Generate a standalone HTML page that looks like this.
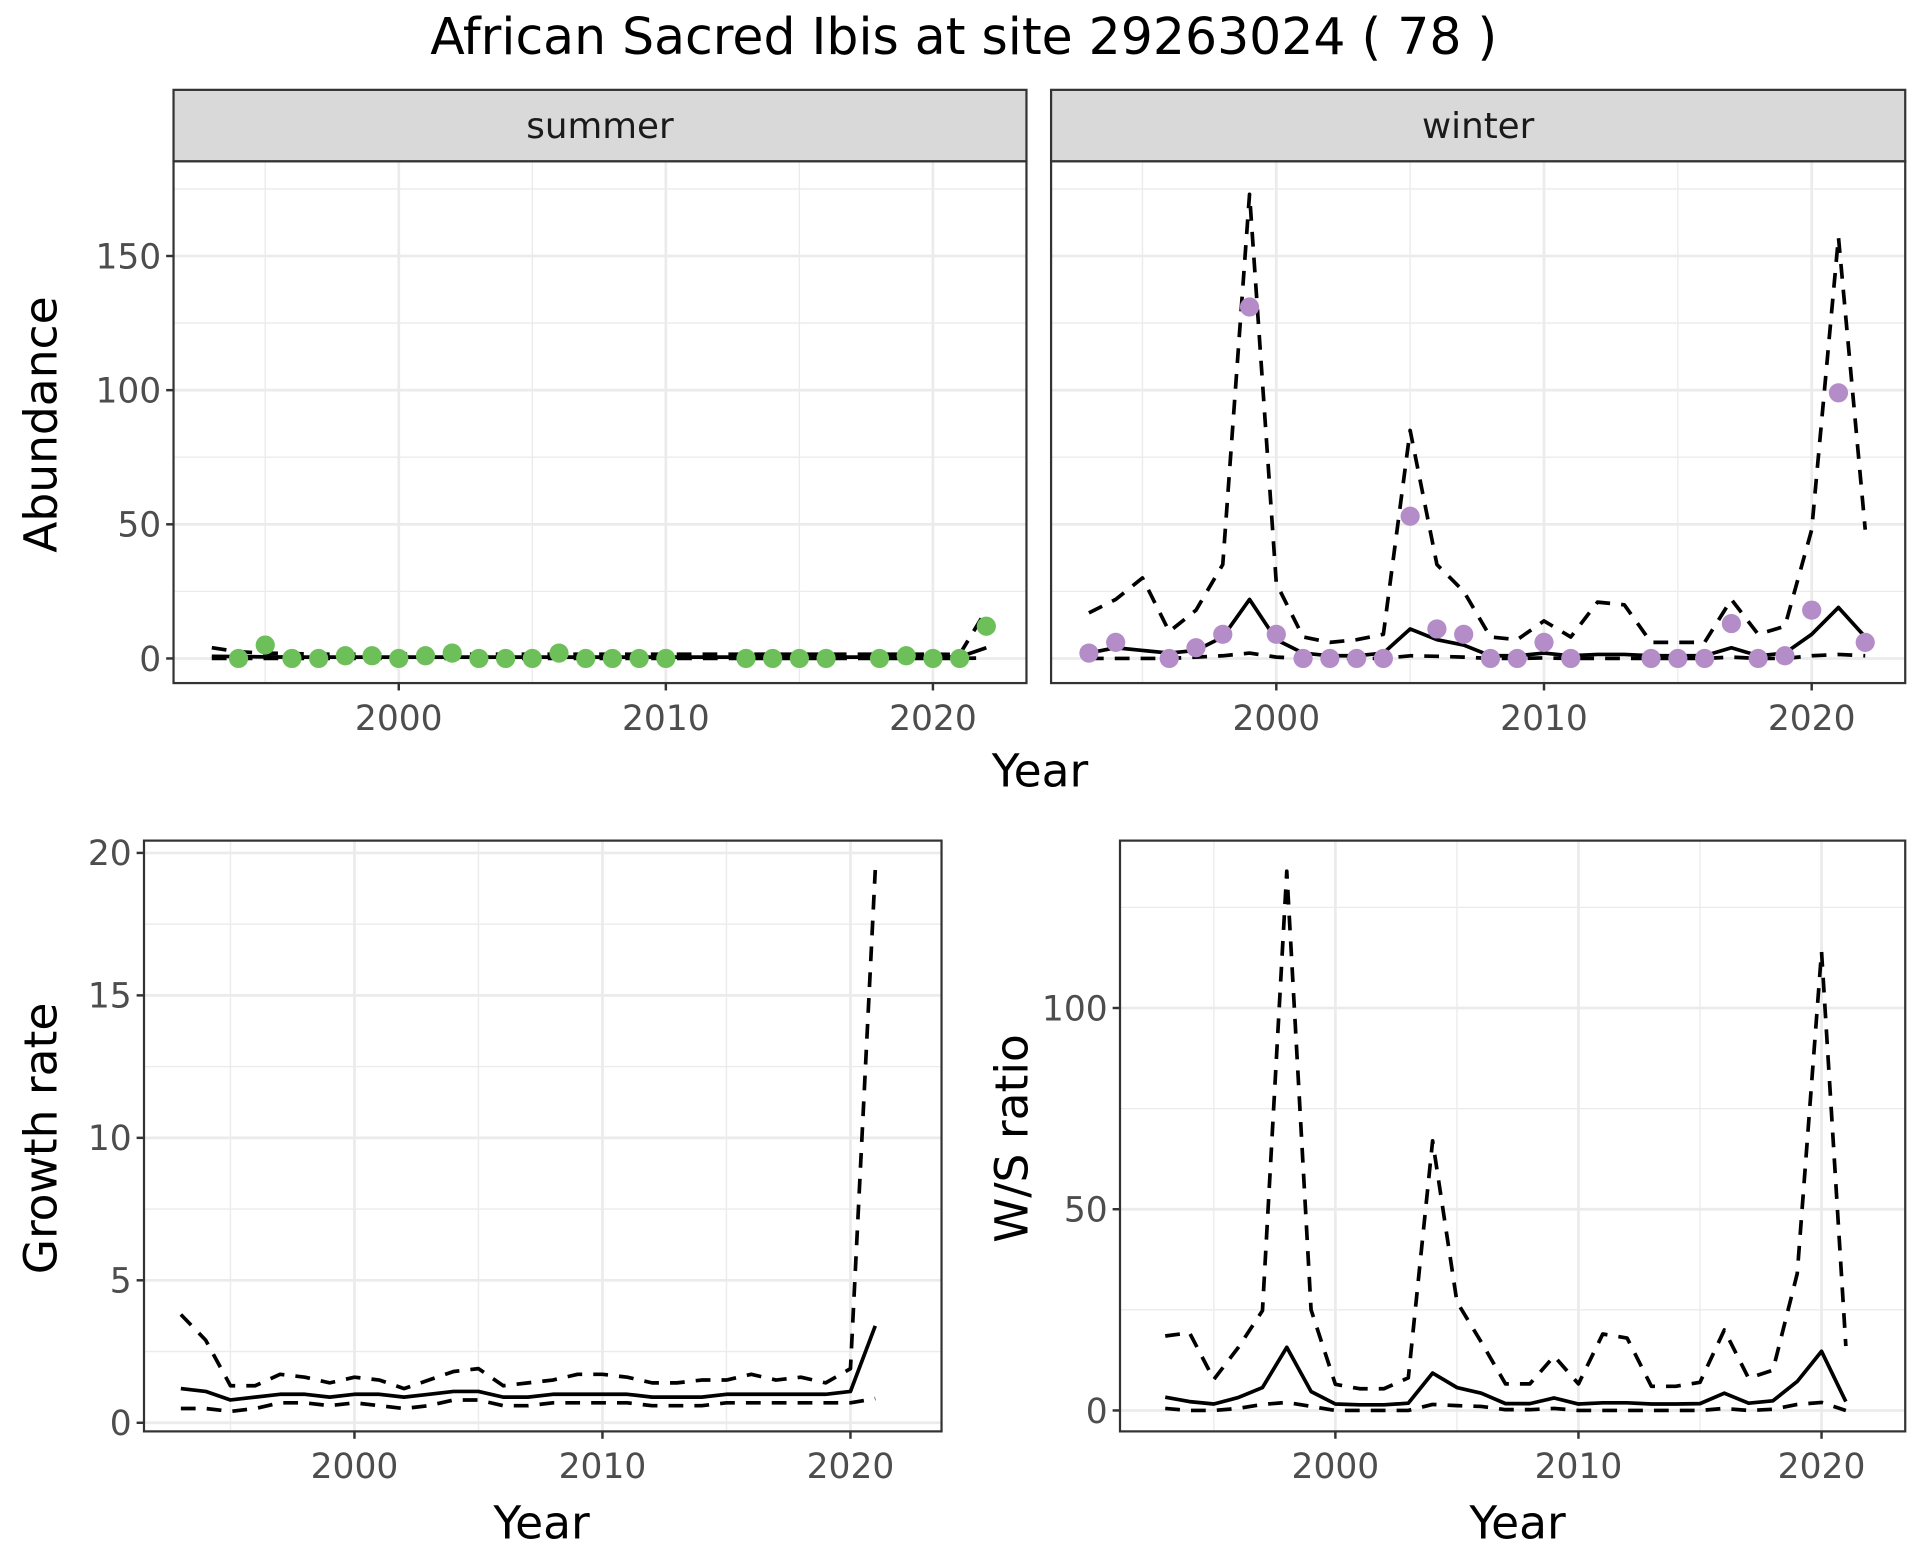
<!DOCTYPE html>
<html><head><meta charset="utf-8"><style>
html,body{margin:0;padding:0;background:#fff}
svg{display:block;font-family:"DejaVu Sans","Liberation Sans",sans-serif}
</style></head><body>
<svg id="chart" width="1920" height="1560" viewBox="0 0 1560 1267.5" xmlns="http://www.w3.org/2000/svg">
<text x="783" y="44" font-size="41" text-anchor="middle">African Sacred Ibis at site 29263024 ( 78 )</text>
</svg>
<script>
// ---- data ----
const summerYears=[1994,1995,1996,1997,1998,1999,2000,2001,2002,2003,2004,2005,2006,2007,2008,2009,2010,2013,2014,2015,2016,2018,2019,2020,2021,2022];
const summerCounts=[0,5,0,0,1,1,0,1,2,0,0,0,2,0,0,0,0,0,0,0,0,0,1,0,0,12];
const lineYears=[1993,1994,1995,1996,1997,1998,1999,2000,2001,2002,2003,2004,2005,2006,2007,2008,2009,2010,2011,2012,2013,2014,2015,2016,2017,2018,2019,2020,2021,2022];
const summerMean=[0.8,0.7,0.6,0.5,0.5,0.5,0.5,0.5,0.5,0.5,0.5,0.5,0.5,0.5,0.5,0.5,0.5,0.5,0.5,0.5,0.5,0.5,0.5,0.5,0.5,0.5,0.5,0.5,0.6,4];
const summerUpper=[4,2.5,2,1.8,1.6,1.6,1.6,1.6,1.6,1.6,1.6,1.6,1.6,1.6,1.6,1.6,1.6,1.6,1.6,1.6,1.6,1.6,1.6,1.6,1.6,1.6,1.6,1.6,1.5,18];
const summerLower=[0,0,0,0,0,0,0,0,0,0,0,0,0,0,0,0,0,0,0,0,0,0,0,0,0,0,0,0,0,0.2];
const winterYears=[1993,1994,1996,1997,1998,1999,2000,2001,2002,2003,2004,2005,2006,2007,2008,2009,2010,2011,2014,2015,2016,2017,2018,2019,2020,2021,2022];
const winterCounts=[2,6,0,4,9,131,9,0,0,0,0,53,11,9,0,0,6,0,0,0,0,13,0,1,18,99,6];
const winterMean=[2,4,3,2,3,8,22,7,2,1,1,2,11,7,5,1,1,2,1,1.5,1.5,1,1,1,4,1,2,9,19,8];
const winterUpper=[17,22,30,10,18,35,173,28,8,6,7,9,85,35,25,8,7,14,8,21,20,6,6,6,22,9,12,48,157,48];
const winterLower=[0,0,0,0,0.5,1,2,0.5,0,0,0,0,1,0.8,0.5,0,0,0.2,0,0,0,0,0,0,0.5,0,0,1,1.5,1];
const growthYears=[1993,1994,1995,1996,1997,1998,1999,2000,2001,2002,2003,2004,2005,2006,2007,2008,2009,2010,2011,2012,2013,2014,2015,2016,2017,2018,2019,2020,2021];
const growthMean=[1.2,1.1,0.8,0.9,1.0,1.0,0.9,1.0,1.0,0.9,1.0,1.1,1.1,0.9,0.9,1.0,1.0,1.0,1.0,0.9,0.9,0.9,1.0,1.0,1.0,1.0,1.0,1.1,3.4];
const growthUpper=[3.8,2.9,1.3,1.3,1.7,1.6,1.4,1.6,1.5,1.2,1.5,1.8,1.9,1.3,1.4,1.5,1.7,1.7,1.6,1.4,1.4,1.5,1.5,1.7,1.5,1.6,1.4,1.9,19.4];
const growthLower=[0.5,0.5,0.4,0.5,0.7,0.7,0.6,0.7,0.6,0.5,0.6,0.8,0.8,0.6,0.6,0.7,0.7,0.7,0.7,0.6,0.6,0.6,0.7,0.7,0.7,0.7,0.7,0.7,0.85];
const ratioYears=[1993,1994,1995,1996,1997,1998,1999,2000,2001,2002,2003,2004,2005,2006,2007,2008,2009,2010,2011,2012,2013,2014,2015,2016,2017,2018,2019,2020,2021];
const ratioMean=[3.3,2.2,1.6,3.2,5.7,15.7,4.7,1.6,1.4,1.4,1.8,9.3,5.7,4.3,1.7,1.7,3.1,1.6,1.9,1.9,1.6,1.6,1.7,4.3,1.8,2.4,7.2,14.7,2.2];
const ratioUpper=[18.5,19.3,7.7,15.6,24.8,134,25,6.5,5.4,5.4,8.1,67,27,17,6.6,6.6,13.5,6.6,19,18,6,6,7,20,8,10,34,114,16];
const ratioLower=[0.5,0,0,0.5,1.5,2,1,0,0,0,0,1.5,1.2,1,0.2,0.2,0.5,0,0,0,0,0,0,0.5,0,0.3,1.5,2,0];
const absTicks=[0,50,100,150];
const growthTicks=[0,5,10,15,20];
const ratioTicks=[0,50,100];
const yearTicks=[2000,2010,2020];

const NS="http://www.w3.org/2000/svg";
const svg=document.getElementById('chart');
function el(tag,attrs,parent){const e=document.createElementNS(NS,tag);for(const k in attrs)e.setAttribute(k,attrs[k]);(parent||svg).appendChild(e);return e;}

function panel(name,box,xs,ys,opts){
  const g=el('g',{});
  
  
  const X=v=>xs.a+(v-2000)*xs.k;
  const Y=v=>ys.a-v*ys.k;
  el('rect',{x:box.x0,y:box.y0,width:box.x1-box.x0,height:box.y1-box.y0,fill:'#fff'},g);
  const minorY=[];for(let i=0;i<opts.ticks.length-1;i++)minorY.push((opts.ticks[i]+opts.ticks[i+1])/2);
  minorY.push(opts.ticks[opts.ticks.length-1]+(opts.ticks[1]-opts.ticks[0])/2);
  minorY.forEach(v=>{const y=Y(v);if(y>box.y0&&y<box.y1)el('line',{x1:box.x0,x2:box.x1,y1:y,y2:y,stroke:'#ebebeb','stroke-width':1.1},g);});
  [1995,2005,2015].forEach(v=>{const x=X(v);if(x>box.x0&&x<box.x1)el('line',{x1:x,x2:x,y1:box.y0,y2:box.y1,stroke:'#ebebeb','stroke-width':1.1},g);});
  opts.ticks.forEach(v=>{const y=Y(v);el('line',{x1:box.x0,x2:box.x1,y1:y,y2:y,stroke:'#ebebeb','stroke-width':2.2},g);
    if(opts.yLabels){const t=el('text',{x:box.x0-10,y:y+10,'font-size':28,fill:'#4d4d4d','text-anchor':'end'},g);t.textContent=v;
    el('line',{x1:box.x0-6,x2:box.x0,y1:y,y2:y,stroke:'#333','stroke-width':2},g);}});
  yearTicks.forEach(v=>{const x=X(v);el('line',{x1:x,x2:x,y1:box.y0,y2:box.y1,stroke:'#ebebeb','stroke-width':2.2},g);
    el('line',{x1:x,x2:x,y1:box.y1,y2:box.y1+6,stroke:'#333','stroke-width':2},g);
    const t=el('text',{x:x,y:box.y1+38,'font-size':28,fill:'#4d4d4d','text-anchor':'middle'},g);t.textContent=v;});
  const path=(yrs,vals,dash,nm)=>{const p=el('polyline',{points:yrs.map((yr,i)=>X(yr)+','+Y(vals[i])).join(' '),fill:'none',stroke:'#000','stroke-width':3,'stroke-dasharray':dash?'12,9':'none','stroke-linejoin':'round'},g);
    };
  path(opts.lx,opts.upper,true,name+'-upper-ci-line');
  path(opts.lx,opts.lower,true,name+'-lower-ci-line');
  path(opts.lx,opts.mean,false,name+'-mean-line');
  if(opts.px){opts.px.forEach((yr,i)=>{const c=el('circle',{cx:X(yr),cy:Y(opts.py[i]),r:7.8,fill:opts.color},g);
    });}
  el('rect',{x:box.x0,y:box.y0,width:box.x1-box.x0,height:box.y1-box.y0,fill:'none',stroke:'#333','stroke-width':1.8},g);
  if(opts.strip){const s=el('rect',{x:box.x0,y:box.y0-58,width:box.x1-box.x0,height:58,fill:'#d9d9d9',stroke:'#333','stroke-width':1.8},g);
    
    const t=el('text',{x:(box.x0+box.x1)/2,y:box.y0-19,'font-size':29,fill:'#1a1a1a','text-anchor':'middle'},g);t.textContent=opts.strip;}
  return g;
}
panel('summer',{x0:141,x1:834,y0:131,y1:555},{a:324,k:21.7},{a:535,k:2.18},{ticks:absTicks,yLabels:true,lx:lineYears,mean:summerMean,upper:summerUpper,lower:summerLower,px:summerYears,py:summerCounts,color:'#6dbf5a',strip:'summer'});
panel('winter',{x0:854,x1:1548,y0:131,y1:555},{a:1037,k:21.75},{a:535,k:2.18},{ticks:absTicks,yLabels:false,lx:lineYears,mean:winterMean,upper:winterUpper,lower:winterLower,px:winterYears,py:winterCounts,color:'#b48cc8',strip:'winter'});
panel('growth',{x0:117,x1:765,y0:683,y1:1163},{a:288,k:20.15},{a:1156,k:23.15},{ticks:growthTicks,yLabels:true,lx:growthYears,mean:growthMean,upper:growthUpper,lower:growthLower});
panel('ratio',{x0:910,x1:1548,y0:683,y1:1163},{a:1085,k:19.75},{a:1146,k:3.27},{ticks:ratioTicks,yLabels:true,lx:ratioYears,mean:ratioMean,upper:ratioUpper,lower:ratioLower});

function label(txt,x,y,rot,nm){const t=el('text',{x:x,y:y,'font-size':37,fill:'#000','text-anchor':'middle',transform:rot?`rotate(-90 ${x} ${y})`:''});t.textContent=txt;
  }
label('Year',845,639,false,'top-x-axis-title');
label('Abundance',46,345,true,'top-y-axis-title');
label('Year',440,1250,false,'growth-x-axis-title');
label('Growth rate',46,925,true,'growth-y-axis-title');
label('Year',1233,1250,false,'ratio-x-axis-title');
label('W/S ratio',835,925,true,'ratio-y-axis-title');
</script>
</body></html>
